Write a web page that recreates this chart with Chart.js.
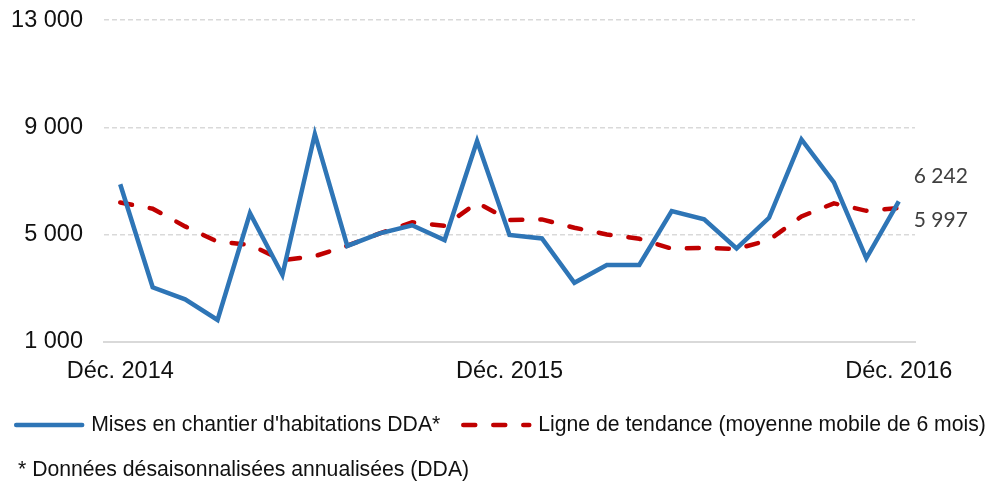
<!DOCTYPE html>
<html lang="fr">
<head>
<meta charset="utf-8">
<title>Mises en chantier d'habitations</title>
<script src="https://cdn.jsdelivr.net/npm/chart.js@4.4.1/dist/chart.umd.min.js"></script>
<style>
  body { margin: 0; background: #fff; }
  #cadre { position: relative; width: 990px; height: 481px; }
  #note {
    position: absolute; left: 18px; top: 457px;
    font: 21.2px "Liberation Sans", Arial, sans-serif; line-height: 24px; color: #111;
  }
</style>
</head>
<body>
<div id="cadre">
  <canvas id="graphique"></canvas>
  <div id="note">* Données désaisonnalisées annualisées (DDA)</div>
</div>
<script>
// mois de déc. 2014 à déc. 2016
const mois = ['Déc. 2014', 'Janv. 2015', 'Févr. 2015', 'Mars 2015', 'Avr. 2015', 'Mai 2015', 'Juin 2015',
  'Juil. 2015', 'Août 2015', 'Sept. 2015', 'Oct. 2015', 'Nov. 2015', 'Déc. 2015', 'Janv. 2016',
  'Févr. 2016', 'Mars 2016', 'Avr. 2016', 'Mai 2016', 'Juin 2016', 'Juil. 2016', 'Août 2016',
  'Sept. 2016', 'Oct. 2016', 'Nov. 2016', 'Déc. 2016']
const etiquettesX = ['Déc. 2014', 'Déc. 2015', 'Déc. 2016']

const misesEnChantier = [6880, 3040, 2590, 1820, 5800, 3500, 8750, 4580, 5050, 5350, 4800, 8490, 4990,
  4860, 3210, 3870, 3870, 5880, 5570, 4490, 5630, 8550, 6950, 4120, 6242]
const moyenneMobile = [6200, 5970, 5310, 4740, 4620, 4050, 4200, 4590, 5050, 5460, 5330, 6190, 5550,
  5570, 5260, 5010, 4850, 4480, 4510, 4470, 4800, 5680, 6170, 5890, 5997]

const ticksY = [1000, 5000, 9000, 13000]

const nomSerie1 = "Mises en chantier d'habitations DDA*"
const nomSerie2 = 'Ligne de tendance (moyenne mobile de 6 mois)'

const police = '"Liberation Sans", Arial, sans-serif'

function espaces(n) {
  return String(n).replace(/\B(?=(\d{3})+(?!\d))/g, ' ')
}

// valeur de la dernière période à droite des courbes
const dernieresValeurs = {
  id: 'dernieresValeurs',
  afterDatasetsDraw(chart) {
    const ctx = chart.ctx
    const decalages = [-25, 12]
    ctx.save()
    ctx.font = '21px Lato, "Open Sans", sans-serif'
    ctx.fillStyle = '#404040'
    ctx.textBaseline = 'middle'
    chart.data.datasets.forEach(function(ds, i) {
      const pts = chart.getDatasetMeta(i).data
      const p = pts[pts.length - 1]
      ctx.fillText(espaces(ds.data[ds.data.length - 1]), p.x + 15, p.y + decalages[i])
    })
    ctx.restore()
  }
}

// légende dessinée sous l'axe
const legendeBas = {
  id: 'legendeBas',
  afterDraw(chart) {
    const ctx = chart.ctx
    const y = 425, trait = 70, ecart = 7, entreItems = 21
    ctx.save()
    ctx.font = '21.2px ' + police
    ctx.textBaseline = 'middle'
    const items = chart.data.datasets.map(ds => ({ ds: ds, w: ctx.measureText(ds.label).width }))
    const total = items.reduce((s, it) => s + trait + ecart + it.w, 0) + entreItems * (items.length - 1)
    let x = (chart.width - total) / 2 + 5
    items.forEach(function(it) {
      ctx.strokeStyle = it.ds.borderColor
      ctx.lineWidth = it.ds.borderWidth
      ctx.lineCap = 'round'
      ctx.setLineDash(it.ds.borderDash || [])
      ctx.beginPath()
      ctx.moveTo(x + 2, y)
      ctx.lineTo(x + trait - 2, y)
      ctx.stroke()
      ctx.setLineDash([])
      ctx.fillStyle = '#111'
      ctx.fillText(it.ds.label, x + trait + ecart, y)
      x += trait + ecart + it.w + entreItems
    })
    ctx.restore()
  }
}

const ctx = document.getElementById('graphique').getContext('2d')

const graphique = new Chart(ctx, {
  type: 'line',
  data: {
    labels: mois,
    datasets: [
      {
        label: nomSerie1,
        data: misesEnChantier,
        borderColor: '#2E75B6',
        borderWidth: 4.5,
        tension: 0,
        pointRadius: 0,
        borderJoinStyle: 'miter'
      },
      {
        label: nomSerie2,
        data: moyenneMobile,
        borderColor: '#C00000',
        borderWidth: 4.5,
        borderDash: [12, 18],
        borderCapStyle: 'round',
        tension: 0,
        pointRadius: 0
      }
    ]
  },
  options: {
    responsive: true,
    maintainAspectRatio: false,
    animation: false,
    layout: { padding: { top: 20, right: 75, bottom: 87, left: 0 } },
    plugins: {
      legend: { display: false },
      tooltip: { enabled: false }
    },
    scales: {
      x: {
        offset: true,
        grid: { display: false, drawTicks: false },
        border: { display: true, color: '#D9D9D9', width: 2 },
        ticks: {
          autoSkip: false,
          maxRotation: 0,
          padding: 15,
          color: '#111',
          font: { family: police, size: 23.5 },
          callback: function(val) {
            const lab = this.getLabelForValue(val)
            return etiquettesX.includes(lab) ? lab : ''
          }
        },
        afterFit: function(scale) { scale.height = 52 }
      },
      y: {
        min: ticksY[0],
        max: ticksY[ticksY.length - 1],
        afterBuildTicks: function(scale) { scale.ticks = ticksY.map(v => ({ value: v })) },
        grid: {
          drawTicks: true,
          tickLength: 15,
          tickColor: 'rgba(0,0,0,0)',
          lineWidth: 1.5,
          color: c => c.tick && c.tick.value === ticksY[0] ? 'rgba(0,0,0,0)' : '#D9D9D9'
        },
        border: { display: false, dash: [5, 3] },
        ticks: {
          padding: 6,
          color: '#111',
          font: { family: police, size: 23.5 },
          callback: v => espaces(v)
        },
        afterFit: function(scale) { scale.width = 104 }
      }
    }
  },
  plugins: [dernieresValeurs, legendeBas]
})
</script>
</body>
</html>
